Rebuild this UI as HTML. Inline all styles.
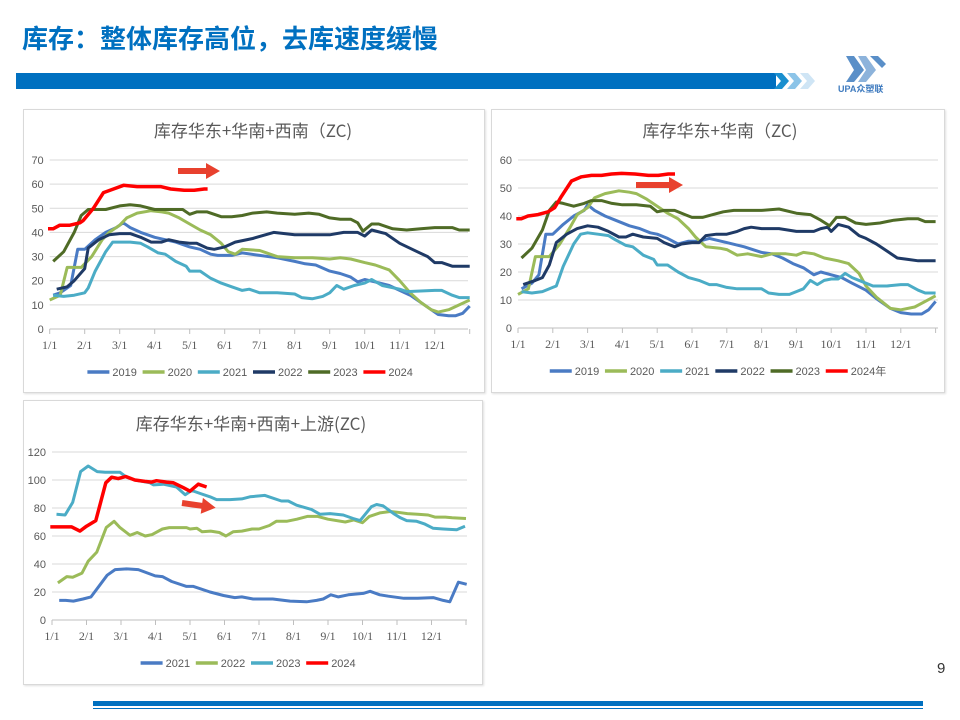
<!DOCTYPE html>
<html><head><meta charset="utf-8">
<style>
body{margin:0;width:960px;height:720px;background:#fff;position:relative;overflow:hidden;font-family:"Liberation Sans","Noto Sans CJK SC",sans-serif}
.abs{position:absolute}
.panel{position:absolute;border:1px solid #d9d9d9;background:#fff;box-shadow:1px 1px 2px #e0e0e0}
</style></head><body>
<div class="abs" style="left:22px;top:19px;font-size:26px;font-weight:bold;color:#0070c0;font-family:'Noto Sans CJK SC',sans-serif;letter-spacing:0px">库存：整体库存高位，去库速度缓慢</div>
<div class="abs" style="left:16px;top:73px;width:760px;height:16px;background:#0070c0"></div>
<svg class="abs" style="left:770px;top:70px" width="60" height="22">
<polygon points="4,3 12,3 19,11 12,19 4,19 11,11" fill="#1a8fcf"/>
<polygon points="17,3 25,3 32,11 25,19 17,19 24,11" fill="#8cc4e8"/>
<polygon points="30,3 38,3 45,11 38,19 30,19 37,11" fill="#cfe5f5"/>
</svg>
<svg class="abs" style="left:838px;top:52px" width="60" height="42">
<polygon points="8,4 16,4 26,18 16,30 8,30 16,18" fill="#5a8fc8"/>
<polygon points="20,4 28,4 38,18 28,30 20,30 28,18" fill="#8db3db"/>
<polygon points="32,4 40,4 48,12 44,16" fill="#5a8fc8"/>
<text x="0" y="40" font-size="9" fill="#3f7bbf" font-family="Liberation Sans,Noto Sans CJK SC,sans-serif" font-weight="bold">UPA众塑联</text>
</svg>

<div class="panel" style="left:23px;top:109px;width:460px;height:282px"></div>
<div class="panel" style="left:491px;top:109px;width:452px;height:282px"></div>
<div class="panel" style="left:23px;top:400px;width:458px;height:283px"></div>

<svg id="s" class="abs" style="left:0;top:0" width="960" height="720"></svg>

<div class="abs" style="left:93px;top:701px;width:830px;height:5px;background:#0070c0"></div>
<div class="abs" style="left:93px;top:708px;width:830px;height:1px;background:#0070c0"></div>
<div class="abs" style="left:937px;top:660px;font-size:15px;color:#333">9</div>

<script>
const NS="http://www.w3.org/2000/svg";
const s=document.getElementById('s');
function el(t,a,txt){const e=document.createElementNS(NS,t);for(const k in a)e.setAttribute(k,a[k]);if(txt!==undefined)e.textContent=txt;s.appendChild(e);return e;}
const C={b:"#4a7bc4",g:"#9bbb59",c:"#4bacc6",n:"#1f3a66",o:"#4f6b26",r:"#ff0000"};
function sc(d,f){return d.map(p=>[p[0]*f,p[1]]);}
function chart(cf){
  const {x0,step,xe,y0,ytop,vmax,vstep}=cf;
  const X=i=>x0+i*step, Y=v=>y0-(y0-ytop)*v/vmax;
  for(let v=0;v<=vmax;v+=vstep){
    const y=Y(v);
    el('line',{x1:x0,x2:xe,y1:y,y2:y,stroke:v==0?'#bfbfbf':'#d9d9d9','stroke-width':1});
    el('text',{x:x0-6,y:y+4,'font-size':11,fill:'#595959','text-anchor':'end'},v);
  }
  for(let m=0;m<=12;m++){el('line',{x1:X(m),x2:X(m),y1:y0,y2:y0+5,stroke:'#bfbfbf'});}
  for(let m=0;m<12;m++){el('text',{x:X(m),y:y0+20,'font-size':12,fill:'#595959','text-anchor':'middle','font-family':'Liberation Serif,serif'},(m+1)+'/1');}
  el('text',{x:cf.tx,y:cf.ty,'font-size':17,fill:'#595959','text-anchor':'middle','font-family':'Noto Sans CJK SC,sans-serif'},cf.title);
  for(const se of cf.series){
    el('polyline',{points:se.d.map(p=>X(p[0]).toFixed(1)+','+Y(p[1]).toFixed(1)).join(' '),fill:'none',stroke:C[se.c],'stroke-width':se.c=='r'?3.5:3,'stroke-linejoin':'round'});
  }
  let w=0;const items=cf.series.map(se=>{const tw=se.n.length*6.3+ (se.n.indexOf('年')>=0?5:0);w+=26+tw+4;return tw;});
  let x=cf.lx-w/2;
  cf.series.forEach((se,i)=>{
    el('line',{x1:x,x2:x+22,y1:cf.ly,y2:cf.ly,stroke:C[se.c],'stroke-width':3.5});
    el('text',{x:x+25,y:cf.ly+4,'font-size':11,fill:'#595959','font-family':'Liberation Sans,Noto Sans CJK SC,sans-serif'},se.n);
    x+=26+items[i]+4;
  });
  const a=cf.arrow;
  el('polygon',{points:`0,-3 ${a.L-14},-3 ${a.L-14},-8 ${a.L},0 ${a.L-14},8 ${a.L-14},3 0,3`,fill:'#e8412e',transform:`translate(${a.x},${a.y}) rotate(${a.r||0})`});
}
chart({x0:49.7,step:35,xe:468,y0:329,ytop:160,vmax:70,vstep:10,title:'库存华东+华南+西南（ZC)',tx:253,ty:137,lx:253,ly:372,arrow:{x:178,y:171,L:42},
series:[
{n:'2019',c:'b',d:[[0.1,14],[0.3,15],[0.6,18],[0.8,33],[1,33],[1.3,37],[1.6,40],[1.9,42],[2.1,44],[2.3,42],[2.6,40],[3,38],[3.3,37],[3.6,36],[4,34],[4.3,33],[4.6,31],[4.8,30.5],[5.2,30.5],[5.5,31.5],[6,30.5],[6.5,29.5],[7,28],[7.3,27],[7.6,26.5],[8,24],[8.3,23],[8.6,21.5],[8.8,19.5],[9,20.5],[9.3,19.5],[9.7,18],[10,16],[10.3,14],[10.6,11],[10.9,8],[11.1,6],[11.4,5.5],[11.6,5.5],[11.8,6.5],[12,9.5]]},
{n:'2020',c:'g',d:[[0,12],[0.3,14],[0.5,25.5],[0.9,25.5],[1.2,30],[1.5,37],[1.7,40],[2,43],[2.2,46],[2.5,48],[2.9,49],[3.2,48.5],[3.4,48],[3.7,46],[4,43.5],[4.3,41],[4.6,39],[4.9,35.5],[5.1,32],[5.3,31],[5.5,33],[6,32.5],[6.2,31.5],[6.5,30],[7,29.5],[7.5,29.5],[8,29],[8.3,29.5],[8.6,29],[9,27.5],[9.3,26.5],[9.7,24.5],[10,20],[10.3,15],[10.6,11],[10.9,8],[11.1,7],[11.4,8],[11.7,10],[12,12]]},
{n:'2021',c:'c',d:[[0.1,14],[0.4,13.5],[0.7,14],[1,15],[1.1,17],[1.3,24],[1.6,32],[1.8,36],[2,36],[2.3,36],[2.6,35.5],[2.8,34],[3.1,31.5],[3.3,31],[3.6,28],[3.9,26],[4,24],[4.3,24],[4.6,21],[4.9,19],[5.2,17.5],[5.5,16],[5.7,16.5],[6,15],[6.5,15],[7,14.5],[7.2,13],[7.5,12.5],[7.8,13.5],[8,15],[8.2,18],[8.4,16.5],[8.7,18],[9,19],[9.2,20.5],[9.5,18],[10,16.5],[10.2,15.5],[11,16],[11.2,16],[11.5,14],[11.7,13],[12,13]]},
{n:'2022',c:'n',d:[[0.2,16.5],[0.5,17.5],[0.7,20],[1,25],[1.1,33.5],[1.4,37],[1.7,39],[2,39.5],[2.3,39.5],[2.6,38],[2.9,36],[3.2,36],[3.4,37],[3.7,36],[4,35.5],[4.2,35.5],[4.5,33.5],[4.7,33],[5,34],[5.3,36],[5.8,37.5],[6.4,40],[7,39],[8,39],[8.4,40],[8.8,40],[9,38.5],[9.2,41],[9.6,39.5],[10,35.5],[10.5,32],[10.8,30],[11,27.5],[11.2,27.5],[11.5,26],[12,26]]},
{n:'2023',c:'o',d:[[0.1,28],[0.4,32],[0.7,40],[0.9,47],[1.1,49.5],[1.6,49.5],[2,51],[2.3,51.5],[2.6,51],[3,49.5],[3.8,49.5],[4,47.5],[4.2,48.5],[4.5,48.5],[4.9,46.5],[5.2,46.5],[5.5,47],[5.8,48],[6.2,48.5],[6.5,48],[7,47.5],[7.4,48],[7.7,47.5],[8,46],[8.3,45.5],[8.6,45.5],[8.8,44],[8.95,40.5],[9.2,43.5],[9.4,43.5],[9.8,41.5],[10.2,41],[10.6,41.5],[11,42],[11.5,42],[11.7,41],[12,41]]},
{n:'2024',c:'r',d:sc([[-0.05,41.5],[0.1,41.5],[0.3,43],[0.6,43],[0.9,44],[1,45],[1.3,50],[1.6,56.5],[1.9,58],[2.2,59.5],[2.6,59],[3,59],[3.3,59],[3.6,58],[4,57.5],[4.3,57.5],[4.6,58],[4.7,58]],0.96)}
]});
chart({x0:518,step:34.8,xe:938,y0:328,ytop:160,vmax:60,vstep:10,title:'库存华东+华南（ZC)',tx:720,ty:137,lx:721,ly:371,arrow:{x:636,y:185,L:47},
series:[
{n:'2019',c:'b',d:[[0.1,14],[0.4,16],[0.6,19],[0.8,33.5],[1,33.5],[1.3,37],[1.6,40],[1.9,42],[2,44],[2.2,42],[2.5,40],[2.8,38.5],[3.2,36.5],[3.5,35.5],[3.8,34],[4,33.5],[4.3,32],[4.6,30],[4.9,31],[5.2,31],[5.5,32],[6,30.5],[6.5,29],[7,27],[7.3,26.5],[7.6,25],[7.9,23],[8.2,21.5],[8.5,19],[8.7,20],[9,19],[9.3,18],[9.6,16],[10,13.5],[10.3,10.5],[10.7,7],[11,5.5],[11.3,5],[11.6,5],[11.8,6.5],[12,9.5]]},
{n:'2020',c:'g',d:[[0,12],[0.3,14],[0.5,25.5],[0.9,25.5],[1.2,30],[1.5,36],[1.7,40.5],[2,43],[2.2,46.5],[2.5,48],[2.9,49],[3.2,48.5],[3.4,48],[3.7,46],[4,43.5],[4.3,41],[4.6,39],[4.9,35.5],[5.1,32.5],[5.4,29],[5.8,28.5],[6,28],[6.3,26],[6.6,26.5],[7,25.5],[7.3,26.5],[7.7,26.5],[8,26],[8.2,27],[8.5,26.5],[8.8,25],[9.2,24],[9.5,23],[9.8,19.5],[10,15],[10.3,11],[10.7,7],[11,6.5],[11.4,7.5],[11.7,9.5],[12,11.5]]},
{n:'2021',c:'c',d:[[0.1,13],[0.4,12.5],[0.7,13],[1,14.5],[1.1,15],[1.3,22],[1.6,30],[1.8,33.5],[2,34],[2.3,33.5],[2.6,33],[2.8,31.5],[3.1,29.5],[3.3,29],[3.6,26],[3.9,24.5],[4,22.5],[4.3,22.5],[4.6,20],[4.9,18],[5.2,17],[5.5,15.5],[5.7,15.5],[6,14.5],[6.3,14],[6.6,14],[7,14],[7.2,12.5],[7.5,12],[7.8,12],[8,13],[8.2,14],[8.4,17],[8.6,15.5],[8.8,17],[9,17.5],[9.2,17.5],[9.4,19.5],[9.6,18],[9.9,16.5],[10.2,15],[10.6,15],[11,15.5],[11.2,15.5],[11.5,13.5],[11.7,12.5],[12,12.5]]},
{n:'2022',c:'n',d:[[0.15,15.5],[0.5,17],[0.7,18],[0.9,22.5],[1.1,30.5],[1.4,33.5],[1.7,35.5],[2,36.5],[2.3,36],[2.6,34.5],[2.9,32.5],[3.1,32.5],[3.3,33.5],[3.6,32.5],[4,32],[4.2,30.5],[4.5,29],[4.7,30],[5,30.5],[5.2,30.5],[5.4,33],[5.7,33.5],[6,33.5],[6.3,34.5],[6.5,35.5],[6.7,36],[7,35.5],[7.5,35.5],[8,34.5],[8.5,34.5],[8.7,35.5],[8.9,36],[9.0,34.5],[9.2,37],[9.5,36],[9.8,33],[10,32],[10.3,30],[10.6,27.5],[10.9,25],[11.2,24.5],[11.5,24],[12,24]]},
{n:'2023',c:'o',d:[[0.1,25],[0.4,28.5],[0.7,35],[0.9,42],[1.1,45],[1.3,44.5],[1.6,43.5],[1.9,44.5],[2.1,45.5],[2.4,45.5],[2.7,44.5],[3,44],[3.4,44],[3.8,43.5],[4,41.5],[4.2,42],[4.5,42],[4.8,40.5],[5,39.5],[5.3,39.5],[5.6,40.5],[5.9,41.5],[6.2,42],[7,42],[7.5,42.5],[8,41],[8.4,40.5],[8.7,38.5],[8.95,36.5],[9.15,39.5],[9.4,39.5],[9.7,37.5],[10,37],[10.4,37.5],[10.8,38.5],[11.2,39],[11.5,39],[11.7,38],[12,38]]},
{n:'2024年',c:'r',d:sc([[-0.05,39],[0.1,39],[0.3,40],[0.6,40.5],[0.9,41.5],[1.1,43],[1.3,47],[1.6,52.5],[1.9,54],[2.2,54.5],[2.5,54.5],[2.8,55],[3.1,55.2],[3.5,55],[3.9,54.5],[4.2,54.5],[4.5,55],[4.7,55]],0.96)}
]});
chart({x0:52,step:34.5,xe:467,y0:620,ytop:452,vmax:120,vstep:20,title:'库存华东+华南+西南+上游(ZC)',tx:251,ty:430,lx:251,ly:663,arrow:{x:182,y:503,L:34,r:8},
series:[
{n:'2021',c:'b',d:[[0.21,14],[0.4,14],[0.62,13.5],[0.9,15],[1.13,16.5],[1.6,32],[1.83,36],[2.16,36.5],[2.5,36],[2.99,31.5],[3.2,31],[3.47,27.5],[3.9,24],[4.1,24],[4.58,20],[4.97,17.5],[5.3,16],[5.5,16.5],[5.83,15],[6.4,15],[6.9,13.5],[7.38,13],[7.67,14],[7.86,15],[8.08,18],[8.3,16.5],[8.59,18],[9.02,19],[9.22,20.5],[9.5,18],[9.75,17],[10.2,15.5],[10.6,15.5],[11.05,16],[11.34,14],[11.53,13],[11.78,27],[12.02,25.5]]},
{n:'2022',c:'g',d:[[0.17,26.5],[0.43,31],[0.6,30.5],[0.87,33.5],[1.05,42],[1.3,48.5],[1.57,66],[1.8,70.5],[1.97,66],[2.26,60.5],[2.47,62.5],[2.7,60],[2.9,61],[3.2,65],[3.4,66],[3.9,66],[4.0,65],[4.2,65.5],[4.35,63],[4.6,63.5],[4.85,62.5],[5.04,60],[5.25,63],[5.5,63.5],[5.8,65],[6,65],[6.3,67.5],[6.5,70.5],[6.8,70.5],[7.1,72],[7.4,74],[7.7,74],[8,72],[8.5,70],[8.75,71.5],[9,69.5],[9.2,74],[9.5,76.5],[9.8,77.5],[10,77],[10.3,76],[10.6,75.5],[10.9,75],[11.1,73.5],[11.4,73.5],[11.6,73],[12,72.5]]},
{n:'2023',c:'c',d:[[0.13,75.5],[0.38,75],[0.6,84],[0.83,106],[1.05,110],[1.31,106],[1.54,105.5],[1.97,105.5],[2.16,102],[2.4,100],[2.84,98],[2.94,96.5],[3.23,97],[3.61,95],[3.86,89.5],[4.05,92.5],[4.34,90],[4.58,88],[4.77,86],[5.16,86],[5.5,86.5],[5.74,88],[6.17,89],[6.65,85],[6.85,85],[7.09,82],[7.52,79],[7.77,75.5],[8.06,76],[8.44,75],[8.73,72.5],[8.93,71],[9.26,81],[9.41,82.5],[9.6,81.5],[9.9,76],[10.1,73],[10.28,71],[10.57,70.5],[10.81,68.5],[11.05,65.5],[11.34,65],[11.73,64.5],[11.97,67]]},
{n:'2024',c:'r',d:[[-0.05,66.5],[0.57,66.5],[0.81,63.5],[1.0,67],[1.27,71],[1.56,98],[1.73,102],[1.92,101],[2.14,102.5],[2.4,100],[2.69,99],[2.89,98.5],[3.03,99.5],[3.32,98.5],[3.52,98],[3.81,94.5],[4.0,92],[4.24,97],[4.48,95]]}
]});
</script>
</body></html>
